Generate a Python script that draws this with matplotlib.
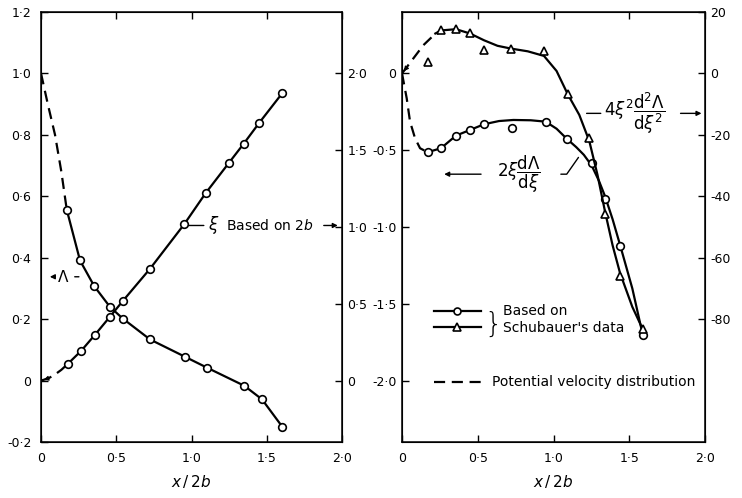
import matplotlib
matplotlib.use("Agg")
import matplotlib.pyplot as plt
from matplotlib.lines import Line2D

plt.rcParams['font.family'] = ['DejaVu Sans']
plt.rcParams['mathtext.fontset'] = 'dejavusans'

# ---------------- data (left panel) ----------------
x_lam = [0.171, 0.259, 0.354, 0.458, 0.543, 0.724, 0.959, 1.103, 1.351, 1.468, 1.604]
lam = [0.556, 0.391, 0.307, 0.240, 0.202, 0.134, 0.077, 0.042, -0.017, -0.061, -0.151]
x_lam_pot = [0.0, 0.045, 0.093, 0.135, 0.171]
lam_pot = [1.0, 0.9, 0.8, 0.68, 0.556]

x_xi = [0.177, 0.266, 0.359, 0.458, 0.543, 0.724, 0.952, 1.094, 1.247, 1.347, 1.451, 1.604]
xi = [0.108, 0.193, 0.299, 0.416, 0.518, 0.728, 1.019, 1.221, 1.416, 1.543, 1.680, 1.873]
x_xi_pot = [0.0, 0.05, 0.093, 0.135, 0.177]
xi_pot = [0.0, 0.015, 0.04, 0.07, 0.108]

# ---------------- data (right panel) ----------------
x_c = [0.169, 0.257, 0.356, 0.449, 0.541, 0.724, 0.948, 1.087, 1.252, 1.340, 1.440, 1.589]
c_val = [-0.513, -0.487, -0.405, -0.368, -0.331, -0.357, -0.314, -0.429, -0.584, -0.818, -1.125, -1.703]
x_c_fit = [0.169, 0.257, 0.356, 0.449, 0.541, 0.64, 0.735, 0.85, 0.948, 1.02, 1.087, 1.15,
           1.20, 1.252, 1.30, 1.34, 1.39, 1.44, 1.52, 1.589]
c_fit = [-0.513, -0.487, -0.405, -0.368, -0.331, -0.31, -0.303, -0.305, -0.314, -0.36, -0.425,
         -0.48, -0.53, -0.60, -0.70, -0.80, -0.95, -1.12, -1.40, -1.703]
x_c_pot = [0.0, 0.031, 0.053, 0.086, 0.119, 0.169]
c_pot = [0.0, -0.162, -0.314, -0.422, -0.487, -0.513]

x_t = [0.169, 0.257, 0.356, 0.449, 0.541, 0.718, 0.937, 1.094, 1.236, 1.340, 1.439, 1.589]
t_val = [3.8, 14.3, 14.6, 13.2, 7.6, 8.1, 7.4, -6.8, -21.1, -45.8, -66.0, -83.3]
x_t_fit = [0.22, 0.257, 0.356, 0.449, 0.541, 0.63, 0.718, 0.83, 0.937, 1.02, 1.094, 1.17,
           1.236, 1.29, 1.34, 1.39, 1.439, 1.52, 1.589]
t_fit = [13.0, 14.0, 14.4, 13.0, 10.8, 9.0, 8.1, 7.2, 5.7, 0.8, -6.8, -13.5,
         -22.0, -33.0, -45.0, -56.0, -65.0, -76.0, -83.3]
x_t_pot = [0.0, 0.075, 0.141, 0.2, 0.257]
t_pot = [0.0, 4.9, 9.2, 12.0, 13.6]

# tick labels
xticks = [0, 0.5, 1.0, 1.5, 2.0]
xticklabels = ["0", "0·5", "1·0", "1·5", "2·0"]
L_yticks = [-0.2, 0, 0.2, 0.4, 0.6, 0.8, 1.0, 1.2]
L_yticklabels = ["-0·2", "0", "0·2", "0·4", "0·6", "0·8", "1·0", "1·2"]
L2_yticks = [0, 0.5, 1.0, 1.5, 2.0]
L2_yticklabels = ["0", "0·5", "1·0", "1·5", "2·0"]
R_yticks = [-2.0, -1.5, -1.0, -0.5, 0]
R_yticklabels = ["-2·0", "-1·5", "-1·0", "-0·5", "0"]
R2_yticks = [-80, -60, -40, -20, 0, 20]
R2_yticklabels = ["-80", "-60", "-40", "-20", "0", "20"]

LW = 1.6
MS = 5.5
FS = 10
TFS = 9

fig = plt.figure(figsize=(7.42, 4.98), dpi=100)
axL = fig.add_axes([0.0553, 0.1124, 0.4057, 0.8635])
axR = fig.add_axes([0.5418, 0.1124, 0.4084, 0.8635])


def style_axis(ax):
    for s in ax.spines.values():
        s.set_linewidth(1.1)
    ax.tick_params(axis='both', direction='in', length=5, width=1.0, labelsize=TFS)
    ax.tick_params(axis='x', top=True, pad=7)


# ---------------- left panel ----------------
axL.set_xlim(0, 2.0)
axL.set_ylim(-0.2, 1.2)
style_axis(axL)
axL.tick_params(axis='y', pad=7)
axL.set_xticks(xticks, xticklabels)
axL.set_yticks(L_yticks, L_yticklabels)
axL.set_xlabel(r"$x\,/\,2b$", fontsize=11, labelpad=6)

axL.plot(x_lam, lam, '-', color='black', lw=LW, marker='o', ms=MS,
         mfc='white', mec='black', mew=1.2, zorder=3)
axL.plot(x_lam_pot, lam_pot, '--', color='black', lw=LW, dashes=(5, 3))

axL2 = axL.twinx()
axL2.set_ylim(-0.4, 2.4)
axL2.tick_params(axis='y', direction='in', length=5, width=1.0, labelsize=TFS, pad=4)
axL2.set_yticks(L2_yticks, L2_yticklabels)
axL2.plot(x_xi, xi, '-', color='black', lw=LW, marker='o', ms=MS,
          mfc='white', mec='black', mew=1.2, zorder=3)
axL2.plot(x_xi_pot, xi_pot, '--', color='black', lw=LW, dashes=(5, 3))
axL2.annotate('', xy=(0.0, 0.0), xytext=(0.05, 0.015),
              arrowprops=dict(arrowstyle='-|>', color='black', lw=0.8, mutation_scale=7))

# annotations left
axL.annotate('', xy=(0.04, 0.338), xytext=(0.11, 0.338),
             arrowprops=dict(arrowstyle='-|>', color='black', lw=1.0, mutation_scale=7))
axL.text(0.148, 0.338, r"$\Lambda$", fontsize=11, ha='center', va='center')
axL.annotate('', xy=(0.2, 0.338), xytext=(0.27, 0.338),
             arrowprops=dict(arrowstyle='-', color='black', lw=1.0, linestyle=(0, (3, 2))))
YXI = 0.505
axL.annotate('', xy=(0.95, YXI), xytext=(1.10, YXI),
             arrowprops=dict(arrowstyle='-', color='black', lw=1.0))
axL.text(1.15, YXI, r"$\xi$", fontsize=12, ha='center', va='center')
axL.text(1.23, YXI, "Based on 2$b$", fontsize=FS, ha='left', va='center')
axL.annotate('', xy=(1.99, YXI), xytext=(1.86, YXI),
             arrowprops=dict(arrowstyle='-|>', color='black', lw=1.0, mutation_scale=7))

# ---------------- right panel ----------------
axR.set_xlim(0, 2.0)
axR.set_ylim(-2.4, 0.4)
style_axis(axR)
axR.tick_params(axis='y', pad=4)
axR.set_xticks(xticks, xticklabels)
axR.set_yticks(R_yticks, R_yticklabels)
axR.set_xlabel(r"$x\,/\,2b$", fontsize=11, labelpad=6)

axR.plot(x_c_fit, c_fit, '-', color='black', lw=LW)
axR.plot(x_c, c_val, 'o', ms=MS, mfc='white', mec='black', mew=1.2, zorder=3)
axR.plot(x_c_pot, c_pot, '--', color='black', lw=LW, dashes=(5, 3))

axR2 = axR.twinx()
axR2.set_ylim(-120, 20)
axR2.tick_params(axis='y', direction='in', length=5, width=1.0, labelsize=TFS, pad=4)
axR2.set_yticks(R2_yticks, R2_yticklabels)
axR2.plot(x_t_fit, t_fit, '-', color='black', lw=LW)
axR2.plot(x_t, t_val, '^', ms=MS + 0.5, mfc='white', mec='black', mew=1.2, zorder=3)
axR2.plot(x_t_pot, t_pot, '--', color='black', lw=LW, dashes=(5, 3))
axR2.annotate('', xy=(0.0, 0.0), xytext=(0.04, 2.5),
              arrowprops=dict(arrowstyle='-|>', color='black', lw=0.8, mutation_scale=7))

# annotations right
axR.annotate('', xy=(1.20, -0.26), xytext=(1.33, -0.26),
             arrowprops=dict(arrowstyle='-', color='black', lw=1.0))
axR.text(1.335, -0.26, r"$4\xi^2\dfrac{\mathrm{d}^2\Lambda}{\mathrm{d}\xi^2}$",
         fontsize=12, ha='left', va='center')
axR.annotate('', xy=(1.995, -0.26), xytext=(1.82, -0.26),
             arrowprops=dict(arrowstyle='-|>', color='black', lw=1.0, mutation_scale=7))

axR.annotate('', xy=(0.26, -0.656), xytext=(0.54, -0.656),
             arrowprops=dict(arrowstyle='-|>', color='black', lw=1.0, mutation_scale=7))
axR.text(0.63, -0.656, r"$2\xi\dfrac{\mathrm{d}\Lambda}{\mathrm{d}\xi}$",
         fontsize=12, ha='left', va='center')
axR.annotate('', xy=(1.175, -0.532), xytext=(1.03, -0.656),
             arrowprops=dict(arrowstyle='-', color='black', lw=1.0,
                             connectionstyle='angle,angleA=0,angleB=55,rad=0'))

# legends
h_c = Line2D([], [], color='black', lw=LW, marker='o', ms=MS - 0.5, mfc='white', mec='black', mew=1.2)
h_t = Line2D([], [], color='black', lw=LW, marker='^', ms=MS, mfc='white', mec='black', mew=1.2)
leg1 = axR.legend([h_c, h_t], ["Based on", "Schubauer's data"], loc='upper left',
                  bbox_to_anchor=(0.105, 0.32), frameon=False, fontsize=FS,
                  handlelength=3.4, handletextpad=1.6, labelspacing=0.15, borderpad=0,
                  borderaxespad=0, markerfirst=True)
axR.add_artist(leg1)
axR.text(0.30, 0.272, "}", transform=axR.transAxes, fontsize=20, ha='center', va='center',
         fontweight='light')
h_p = Line2D([], [], color='black', lw=LW, ls='--', dashes=(5, 3))
axR.legend([h_p], ["Potential velocity distribution"], loc='upper left',
           bbox_to_anchor=(0.105, 0.155), frameon=False, fontsize=FS,
           handlelength=3.4, handletextpad=0.8, borderpad=0, borderaxespad=0)

fig.savefig("out.png", dpi=100)
